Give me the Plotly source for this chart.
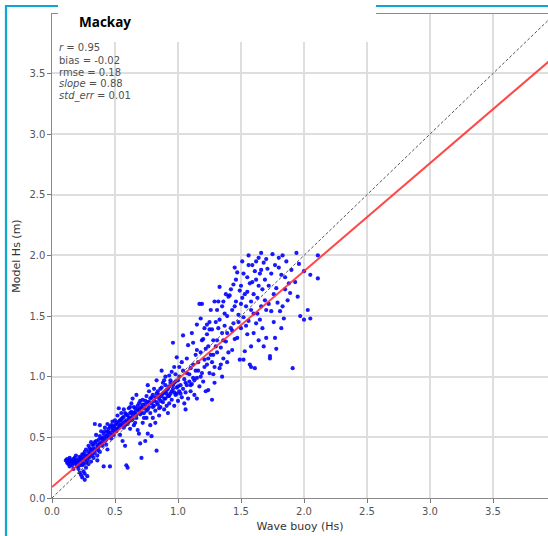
import plotly.graph_objects as go

# ---------------- data ----------------
buoy_hs = [
    0.11,0.12,0.12,0.13,0.13,0.14,0.14,0.15,0.15,0.16,0.16,0.17,0.17,0.18,0.18,0.19,0.19,0.20,0.20,0.21,0.21,0.22,0.22,0.23,0.23,0.24,0.24,0.25,0.25,0.26,0.26,0.27,0.27,0.28,0.28,0.29,0.29,0.30,0.30,0.24,0.26,0.22,0.14,0.17,0.19,
    0.31,0.31,0.32,0.32,0.33,0.33,0.34,0.34,0.35,0.35,0.36,0.36,0.37,0.37,0.38,0.38,0.39,0.39,0.40,0.40,0.41,0.41,0.42,0.42,0.43,0.43,0.44,0.44,0.45,0.45,0.46,0.46,0.47,0.47,0.48,0.48,0.49,0.49,0.34,0.38,0.36,0.44,
    0.50,0.50,0.51,0.52,0.52,0.53,0.54,0.54,0.55,0.55,0.56,0.57,0.57,0.58,0.58,0.59,0.59,0.60,0.60,0.61,0.61,0.62,0.62,0.63,0.63,0.64,0.65,0.65,0.66,0.67,0.67,0.68,0.69,0.69,0.70,0.70,0.71,0.71,0.72,0.72,0.73,0.74,0.74,0.75,0.75,0.76,0.76,0.77,0.78,0.78,0.79,0.79,0.80,0.80,0.56,0.53,0.64,0.68,0.77,
    0.81,0.82,0.83,0.83,0.83,0.84,0.85,0.85,0.86,0.86,0.87,0.88,0.88,0.89,0.89,0.90,0.90,0.91,0.91,0.92,0.93,0.93,0.94,0.94,0.95,0.95,0.96,0.96,0.97,0.97,0.98,0.98,0.99,1.00,1.00,1.01,1.01,1.02,1.03,1.03,1.04,1.04,1.05,1.05,1.06,1.07,1.07,1.08,1.08,1.09,1.10,1.10,0.76,0.82,0.92,1.06,0.87,0.99,
    1.11,1.11,1.12,1.12,1.13,1.14,1.15,1.15,1.15,1.16,1.17,1.17,1.18,1.19,1.19,1.20,1.20,1.21,1.21,1.22,1.23,1.23,1.24,1.24,1.25,1.25,1.26,1.27,1.27,1.28,1.28,1.29,1.30,1.31,1.31,1.32,1.33,1.33,1.33,1.34,1.35,1.36,1.36,1.37,1.38,1.39,1.39,1.39,1.40,1.14,1.18,1.26,1.29,1.35,
    1.41,1.42,1.43,1.43,1.44,1.44,1.45,1.46,1.47,1.47,1.48,1.49,1.49,1.50,1.50,1.51,1.52,1.52,1.53,1.53,1.54,1.55,1.55,1.56,1.57,1.57,1.58,1.58,1.59,1.60,1.60,1.61,1.61,1.62,1.62,1.63,1.64,1.64,1.65,1.65,1.66,1.67,1.68,1.68,1.69,1.70,1.70,1.45,1.56,1.66,
    1.71,1.72,1.73,1.73,1.74,1.75,1.76,1.77,1.77,1.78,1.79,1.80,1.81,1.82,1.82,1.83,1.85,1.86,1.87,1.89,1.90,1.91,1.93,1.94,1.95,1.97,2.00,2.00,2.03,2.05,2.05,2.11,2.11,1.84,1.96,
    # denser core of the cloud
    0.20,0.21,0.22,0.23,0.24,0.25,0.25,0.26,0.27,0.27,0.28,0.29,0.29,0.30,0.31,0.31,0.32,0.33,0.34,0.35,0.36,0.37,0.38,0.39,0.40,
    0.41,0.42,0.43,0.44,0.45,0.46,0.47,0.48,0.49,0.50,0.51,0.52,0.53,0.54,0.55,0.56,0.57,0.58,0.59,0.60,0.61,0.62,0.63,0.64,0.65,0.66,0.67,0.68,0.69,0.70,0.71,0.72,0.73,0.74,0.75,0.76,0.77,0.78,0.79,0.80,0.81,0.82,0.83,0.84,0.85,0.86,0.87,0.88,0.89,0.90,0.91,0.92,0.93,0.94,0.95,0.96,0.97,0.98,0.99,1.00,0.58,0.62,0.66,0.70,0.73,0.81,0.85,0.89,0.93,0.97,
    1.01,1.02,1.04,1.06,1.07,1.09,1.10,1.12,1.13,1.15,1.16,1.18,1.19,1.21,1.22,1.24,1.25,1.27,1.28,1.30,1.31,1.32,1.34,1.35,1.36,1.37,1.38,1.40,1.23,1.29,
    1.42,1.43,1.45,1.46,1.48,1.50,1.51,1.52,1.54,1.55,1.56,1.58,1.59,1.60,1.62,1.63,1.64,1.66,1.67,1.69,1.70,1.72,1.74,1.76,1.78,1.80,1.83,1.85,1.88,1.58,
]
model_hs = [
    0.31,0.29,0.32,0.30,0.28,0.31,0.33,0.29,0.31,0.30,0.27,0.32,0.29,0.30,0.33,0.28,0.31,0.30,0.26,0.32,0.24,0.29,0.21,0.31,0.19,0.27,0.17,0.22,0.33,0.15,0.20,0.25,0.35,0.31,0.18,0.28,0.38,0.34,0.41,0.36,0.38,0.34,0.26,0.24,0.35,
    0.36,0.30,0.39,0.44,0.33,0.41,0.37,0.46,0.40,0.52,0.35,0.44,0.48,0.42,0.38,0.51,0.45,0.55,0.49,0.43,0.26,0.53,0.47,0.58,0.51,0.44,0.55,0.61,0.50,0.57,0.26,0.54,0.60,0.49,0.56,0.63,0.52,0.59,0.61,0.60,0.31,0.40,
    0.57,0.64,0.55,0.61,0.68,0.58,0.64,0.52,0.70,0.60,0.66,0.58,0.73,0.63,0.43,0.27,0.69,0.25,0.61,0.74,0.66,0.57,0.70,0.78,0.64,0.68,0.60,0.75,0.71,0.85,0.66,0.73,0.53,0.78,0.45,0.69,0.33,0.75,0.62,0.81,0.70,0.47,0.77,0.66,0.84,0.53,0.73,0.79,0.60,0.70,0.51,0.83,0.75,0.66,0.47,0.74,0.82,0.56,0.88,
    0.80,0.72,0.39,0.86,0.97,0.77,0.82,0.68,0.90,0.75,0.84,0.79,0.95,0.73,0.87,0.82,1.00,0.76,0.89,0.84,0.92,0.78,0.97,0.86,0.81,1.04,0.90,1.28,0.76,0.95,0.85,1.02,0.91,0.80,0.97,1.08,0.88,0.93,1.12,0.83,0.90,1.34,0.98,0.78,0.87,1.03,0.93,1.26,0.82,0.96,0.88,1.07,0.93,0.62,0.70,0.73,1.05,1.16,
    0.94,1.36,1.28,0.99,0.85,1.05,1.43,0.82,0.99,1.12,1.60,0.92,1.20,1.60,1.03,0.96,1.31,1.40,1.14,0.88,1.43,1.10,0.89,1.25,1.39,1.03,1.18,0.81,1.39,1.18,1.30,1.08,1.45,1.30,1.20,1.62,1.07,1.47,1.74,1.24,1.36,1.62,1.15,1.52,1.29,1.36,1.12,1.50,1.66,1.18,1.48,1.55,0.95,1.00,
    1.67,1.40,1.22,1.55,1.76,1.44,1.31,1.62,1.32,1.86,1.51,1.71,1.14,1.60,1.40,1.95,1.14,1.49,1.21,1.68,1.58,1.82,1.35,1.46,1.77,1.10,1.08,1.62,1.92,1.52,1.36,1.87,1.07,1.80,1.44,1.65,1.30,1.98,1.85,1.47,1.58,1.72,1.25,1.94,1.63,1.55,1.32,1.90,2.00,2.02,
    1.89,1.75,1.17,1.15,1.54,2.01,1.68,1.32,1.92,1.23,1.61,1.98,1.54,1.40,1.84,2.00,1.72,1.95,1.63,1.69,1.88,1.07,1.78,2.02,1.66,1.50,1.87,1.47,1.55,1.84,1.48,1.81,2.00,1.48,1.93,
    # denser core of the cloud
    0.28,0.30,0.27,0.33,0.30,0.28,0.36,0.32,0.29,0.40,0.35,0.33,0.43,0.37,0.40,0.46,0.35,0.44,0.40,0.47,0.42,0.39,0.45,0.49,0.46,
    0.50,0.55,0.48,0.52,0.54,0.59,0.52,0.58,0.55,0.60,0.62,0.57,0.63,0.60,0.65,0.62,0.67,0.60,0.64,0.68,0.63,0.66,0.71,0.65,0.70,0.74,0.69,0.76,0.72,0.74,0.70,0.77,0.74,0.80,0.72,0.79,0.75,0.82,0.78,0.85,0.76,0.83,0.79,0.88,0.85,0.80,0.91,0.86,0.82,0.93,0.86,0.90,0.84,0.95,0.88,0.93,0.87,0.96,0.86,0.92,0.70,0.75,0.62,0.80,0.66,0.90,0.74,0.97,1.01,1.08,
    1.00,0.86,1.05,0.95,1.15,1.02,0.93,1.10,0.97,1.22,1.05,1.00,1.30,1.08,1.23,1.15,1.45,1.12,1.02,1.25,1.55,1.40,1.10,1.58,1.30,1.42,1.68,1.20,1.35,1.62,
    1.72,1.38,1.58,1.80,1.45,1.75,1.65,1.85,1.42,1.70,1.92,1.55,1.78,1.68,1.95,1.52,1.75,1.88,1.40,1.80,1.97,1.60,1.85,1.45,1.73,1.90,1.58,1.82,1.77,1.25,
]
fit_intercept = 0.09
fit_slope = 0.89
stats_lines = [
    "<i>r</i> = 0.95",
    "bias = -0.02",
    "rmse = 0.18",
    "<i>slope</i> = 0.88",
    "<i>std_err</i> = 0.01",
]
site_name = "Mackay"
x_title = "Wave buoy (Hs)"
y_title = "Model Hs (m)"

# ---------------- layout geometry (pixels) ----------------
W, H = 548, 536
L, R, T, B = 52, 0, 14, 38
PW, PH = W - L - R, H - T - B
X_MAX = PW / 126.0
Y_MAX = PH / 121.3


def px(xp):
    return (xp - L) / PW


def py(yp):
    return (H - B - yp) / PH


fig = go.Figure()

fig.add_trace(go.Scatter(
    x=buoy_hs, y=model_hs, mode="markers",
    marker=dict(color="#0000ff", size=4.2, opacity=0.9, line=dict(width=0)),
    showlegend=False, hoverinfo="skip"))

# 1:1 line
fig.add_trace(go.Scatter(
    x=[0, 4], y=[0, 4], mode="lines",
    line=dict(color="#555555", width=1, dash="3px,2px"),
    showlegend=False, hoverinfo="skip"))

# fitted regression line
fx = [0, 4]
fy = [fit_intercept + fit_slope * v for v in fx]
fig.add_trace(go.Scatter(
    x=fx, y=fy, mode="lines",
    line=dict(color="rgba(255,40,40,0.85)", width=2),
    showlegend=False, hoverinfo="skip"))

axis_common = dict(
    dtick=0.5, tick0=0, tickformat=".1f",
    showgrid=True, gridcolor="#dedede", gridwidth=1.5,
    zeroline=False, showline=True, linecolor="#8a8a8a", linewidth=1.2,
    ticks="outside", ticklen=3.5, tickcolor="#777777", tickwidth=1,
    tickfont=dict(family="DejaVu Sans", size=10, color="#555555"),
)

fig.update_xaxes(range=[0, X_MAX], mirror=True, **axis_common,
                 title=dict(text=x_title, standoff=6,
                            font=dict(family="DejaVu Sans", size=11, color="#333333")))
fig.update_yaxes(range=[0, Y_MAX], mirror=False, **axis_common,
                 title=dict(text=y_title, standoff=6,
                            font=dict(family="DejaVu Sans", size=11, color="#333333")))

shapes = [
    # cyan frame: left and top
    dict(type="line", xref="paper", yref="paper",
         x0=px(6), x1=px(6), y0=py(5), y1=py(540),
         line=dict(color="#0aa9d0", width=2.2), layer="above"),
    dict(type="line", xref="paper", yref="paper",
         x0=px(5), x1=px(552), y0=py(6), y1=py(6),
         line=dict(color="#0aa9d0", width=2.2), layer="above"),
    # white title box overlapping the plot
    dict(type="rect", xref="paper", yref="paper",
         x0=px(58), x1=px(376), y0=py(42), y1=py(-2),
         fillcolor="white", line=dict(width=0), layer="above"),
]

annotations = [
    dict(text=f"<b>{site_name}</b>", xref="paper", yref="paper",
         x=px(77), y=py(22), xanchor="left", yanchor="middle", showarrow=False,
         font=dict(family="Open Sans", size=13.5, color="#000000")),
]
for i, s in enumerate(stats_lines):
    annotations.append(dict(
        text=s, xref="paper", yref="paper",
        x=px(57), y=py(48 + 12 * i), xanchor="left", yanchor="middle",
        showarrow=False,
        font=dict(family="DejaVu Sans", size=10, color="#505050")))

fig.update_layout(
    width=W, height=H,
    margin=dict(l=L, r=R, t=T, b=B),
    paper_bgcolor="white", plot_bgcolor="white",
    shapes=shapes, annotations=annotations,
    hovermode=False,
)

fig.write_html("out.html", config={"displayModeBar": False})
